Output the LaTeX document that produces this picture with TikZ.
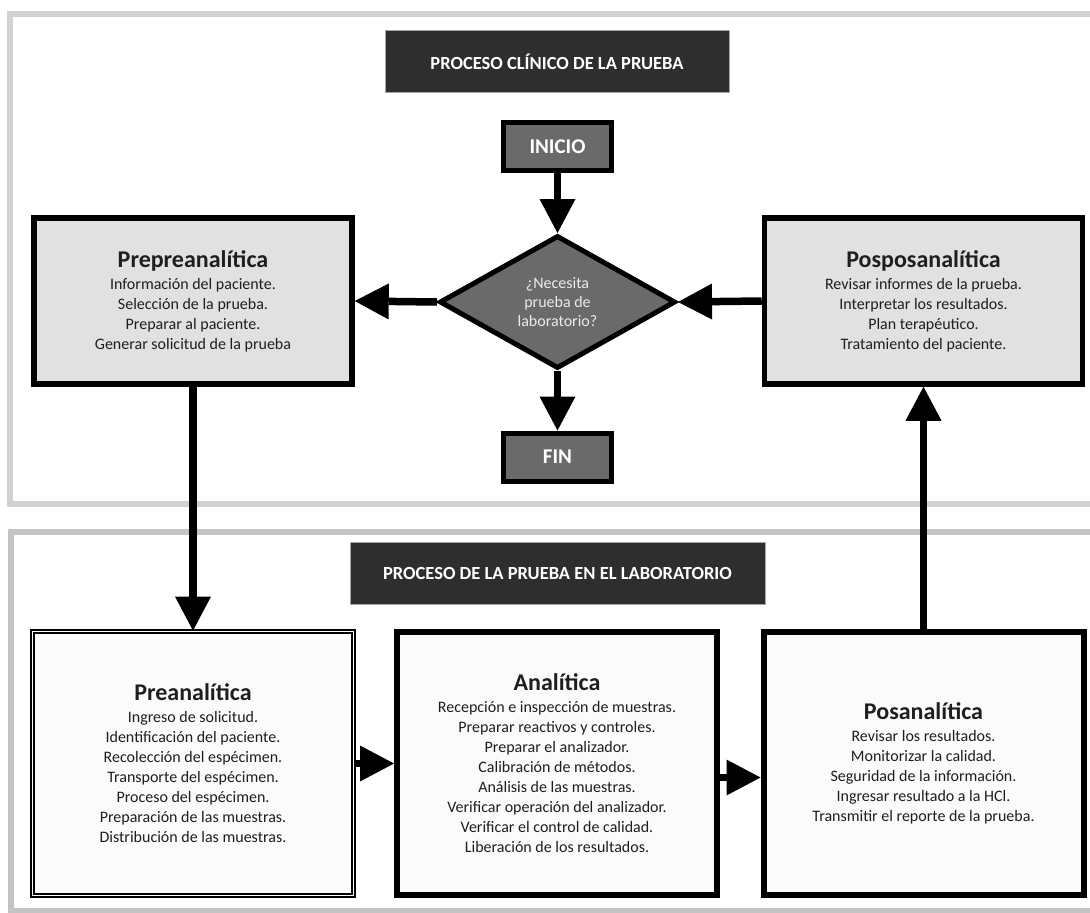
\documentclass[tikz,border=0pt]{standalone}
\usepackage{fontspec}
\setmainfont{Carlito}
\usetikzlibrary{arrows.meta,shapes.geometric}
\definecolor{panelA}{HTML}{D2D2D2}
\definecolor{panelB}{HTML}{C4C4C4}
\definecolor{darkfill}{HTML}{2E2E2E}
\definecolor{midgray}{HTML}{6A6A6A}
\definecolor{lightbox}{HTML}{E1E1E1}
\definecolor{whitebox}{HTML}{FBFBFB}
\definecolor{bodytext}{HTML}{1E1E1E}
\newcommand\hdr[1]{{\fontsize{24}{26}\selectfont\bfseries #1}\\[2pt]}
\begin{document}
\begin{tikzpicture}[x=1pt,y=-1pt,
 panel/.style={draw=#1,line width=6pt},
 titlebox/.style={draw=gray!70,line width=0.8pt,fill=darkfill,text=white,
   font=\fontsize{18.5}{20}\selectfont\bfseries,minimum width=#1,minimum height=62pt,inner sep=0pt},
 termbox/.style={draw=black,line width=5pt,fill=midgray,text=white,
   font=\fontsize{21}{24}\selectfont\bfseries,minimum width=108pt,minimum height=48pt,inner sep=0pt},
 decision/.style={diamond,draw=black,line width=5pt,fill=midgray,text=white!92!black,
   font=\fontsize{16}{19}\selectfont,align=center,minimum width=236pt,minimum height=133pt,
   inner sep=0pt,aspect=1.75},
 clinbox/.style={draw=black,line width=5.5pt,fill=lightbox,align=center,text=bodytext,
   font=\fontsize{16}{20}\selectfont,minimum width=318pt,minimum height=166pt,inner sep=0pt},
 labbox/.style={draw=black,line width=6pt,fill=whitebox,align=center,text=bodytext,
   font=\fontsize{16}{20}\selectfont,minimum width=320pt,minimum height=263pt,inner sep=0pt},
 dblbox/.style={draw=black,line width=1.8pt,double=whitebox,double distance=1.6pt,fill=whitebox,
   align=center,text=bodytext,font=\fontsize{16}{20}\selectfont,minimum width=321pt,
   minimum height=264pt,inner sep=0pt},
 conn/.style={line width=7.5pt,-{Triangle[length=34pt,width=36pt,line width=0pt]}}
]
\useasboundingbox (0,0) rectangle (1090,913);
\fill[white] (0,0) rectangle (1090,913);
\draw[panel=panelA] (10,14) rectangle (1100,504);
\draw[panel=panelB] (11,532) rectangle (1100,911);

\node[titlebox=344pt] (t1) at (557,61.5) {PROCESO CLÍNICO DE LA PRUEBA};
\node[titlebox=415pt] (t2) at (557.5,573.5) {PROCESO DE LA PRUEBA EN EL LABORATORIO};

\node[termbox] (inicio) at (557.5,146.5) {INICIO};
\node[decision] (dia) at (557.5,302) {¿Necesita\\prueba de\\laboratorio?};
\node[termbox] (fin) at (557.5,457) {FIN};

\node[clinbox] (prepre) at (193,301) {\hdr{Prepreanalítica}Información del paciente.\\Selección de la prueba.\\Preparar al paciente.\\Generar solicitud de la prueba};
\node[clinbox] (pospos) at (923.5,301) {\hdr{Posposanalítica}Revisar informes de la prueba.\\Interpretar los resultados.\\Plan terapéutico.\\Tratamiento del paciente.};

\node[dblbox] (prean) at (193,763.5) {\hdr{Preanalítica}Ingreso de solicitud.\\Identificación del paciente.\\Recolección del espécimen.\\Transporte del espécimen.\\Proceso del espécimen.\\Preparación de las muestras.\\Distribución de las muestras.};
\node[labbox] (anal) at (557,763.5) {\hdr{Analítica}Recepción e inspección de muestras.\\Preparar reactivos y controles.\\Preparar el analizador.\\Calibración de métodos.\\Análisis de las muestras.\\Verificar operación del analizador.\\Verificar el control de calidad.\\Liberación de los resultados.};
\node[labbox] (posan) at (923.5,763.5) {\hdr{Posanalítica}Revisar los resultados.\\Monitorizar la calidad.\\Seguridad de la información.\\Ingresar resultado a la HCl.\\Transmitir el reporte de la prueba.};

\draw[conn] (inicio.south) -- (dia.north);
\draw[conn] (dia.south) -- (fin.north);
\draw[conn] (dia.west) -- (prepre.east);
\draw[conn] (pospos.west) -- (dia.east);
\draw[conn] (prepre.south) -- (prean.north);
\draw[conn] (posan.north) -- (pospos.south);
\draw[conn] (prean.east) -- (anal.west);
\draw[conn] ([yshift=-14pt]anal.east) -- ([yshift=-14pt]posan.west);
\end{tikzpicture}
\end{document}
